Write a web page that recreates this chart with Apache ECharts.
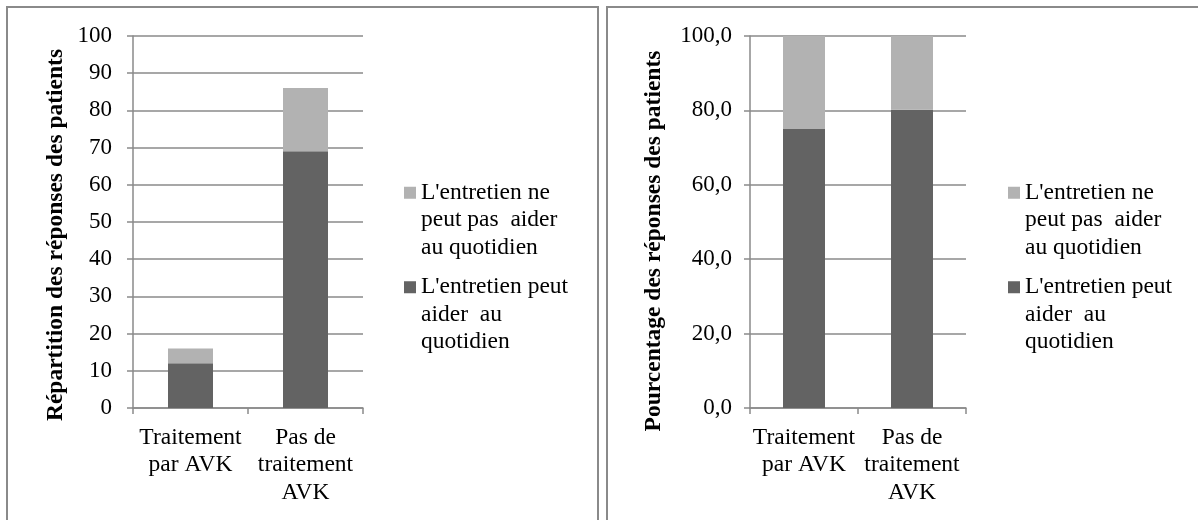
<!DOCTYPE html>
<html>
<head>
<meta charset="utf-8">
<script src="https://cdn.jsdelivr.net/npm/echarts@6/dist/echarts.min.js"></script>
<style>html,body{margin:0;padding:0;background:#fff;}#c{width:1198px;height:520px;}</style>
</head>
<body>
<div id="c"></div>
<script>
const categories = ["Traitement\npar AVK", "Pas de\ntraitement\nAVK"];
const seriesNames = ["L'entretien peut\naider  au\nquotidien", "L'entretien ne\npeut pas  aider\nau quotidien"];
const countsPeut = [12, 69];
const countsNePeut = [4, 17];
const pctPeut = [75.0, 80.2];
const pctNePeut = [25.0, 19.8];
const leftTicks = { min: 0, max: 100, interval: 10 };
const rightTicks = { min: 0, max: 100, interval: 20 };
const leftTitle = "Répartition des réponses des patients";
const rightTitle = "Pourcentage des réponses des patients";

const FONT = "'Liberation Serif', 'Times New Roman', serif";
const AX = '#8a8a8a';
const DARK = '#636363';
const LIGHT = '#b2b2b2';
const TXT = 23.5;
const LH = 27.5;

const chart = echarts.init(document.getElementById('c'), null, { renderer: 'canvas' });

function xAxis(gridIndex) {
  return {
    type: 'category', gridIndex, data: categories,
    axisLine: { lineStyle: { color: AX, width: 1.5 } },
    axisTick: { show: true, length: 6, lineStyle: { color: AX, width: 1.5 } },
    axisLabel: { color: '#000', fontFamily: FONT, fontSize: TXT, lineHeight: LH, margin: 16, interval: 0 }
  };
}
function yAxis(gridIndex, ticks, name, gap, shift, fmt, margin) {
  return {
    type: 'value', gridIndex, min: ticks.min, max: ticks.max, interval: ticks.interval,
    name, nameLocation: 'middle', nameRotate: 90, nameGap: gap,
    nameTextStyle: { color: '#000', fontFamily: FONT, fontSize: TXT, fontWeight: 'bold', padding: [0, shift, 0, 0] },
    axisLine: { show: true, lineStyle: { color: AX, width: 1.5 } },
    axisTick: { show: true, length: 6, lineStyle: { color: AX, width: 1.5 } },
    splitLine: { lineStyle: { color: AX, width: 1.5 } },
    axisLabel: { color: '#000', fontFamily: FONT, fontSize: 23, margin, formatter: fmt }
  };
}
// square aligned with the first text line of a 3-line label (tiny invisible anchors set the icon box height)
const ICON = 'path://M0,0H0.01V0.01H0Z M0,7.75H12V19.75H0Z M0,82.49H0.01V82.5H0Z';
function legend(left) {
  return {
    orient: 'vertical', left, top: 179, padding: 0, itemGap: 12,
    icon: ICON, itemWidth: 12, itemHeight: 82.5,
    data: [seriesNames[1], seriesNames[0]],
    textStyle: { color: '#000', fontFamily: FONT, fontSize: TXT, lineHeight: LH },
    selectedMode: false
  };
}

chart.setOption({
  animation: false,
  backgroundColor: '#fff',
  grid: [
    { left: 133, top: 36, width: 230, height: 372 },
    { left: 750, top: 36, width: 216, height: 372 }
  ],
  xAxis: [xAxis(0), xAxis(1)],
  yAxis: [
    yAxis(0, leftTicks, leftTitle, 65, 26, v => String(v), 21),
    yAxis(1, rightTicks, rightTitle, 84, 38, v => v.toFixed(1).replace('.', ','), 18)
  ],
  legend: [legend(404), legend(1008)],
  series: [
    { name: seriesNames[0], type: 'bar', stack: 'a', xAxisIndex: 0, yAxisIndex: 0, data: countsPeut, barWidth: 45, itemStyle: { color: DARK } },
    { name: seriesNames[1], type: 'bar', stack: 'a', xAxisIndex: 0, yAxisIndex: 0, data: countsNePeut, barWidth: 45, itemStyle: { color: LIGHT } },
    { name: seriesNames[0], type: 'bar', stack: 'b', xAxisIndex: 1, yAxisIndex: 1, data: pctPeut, barWidth: 42, itemStyle: { color: DARK } },
    { name: seriesNames[1], type: 'bar', stack: 'b', xAxisIndex: 1, yAxisIndex: 1, data: pctNePeut, barWidth: 42, itemStyle: { color: LIGHT } }
  ],
  graphic: [
    { type: 'rect', shape: { x: 7, y: 7, width: 591, height: 530 }, style: { fill: null, stroke: AX, lineWidth: 2 }, silent: true, z: -1 },
    { type: 'rect', shape: { x: 607, y: 7, width: 620, height: 530 }, style: { fill: null, stroke: AX, lineWidth: 2 }, silent: true, z: -1 }
  ]
});
</script>
</body>
</html>
